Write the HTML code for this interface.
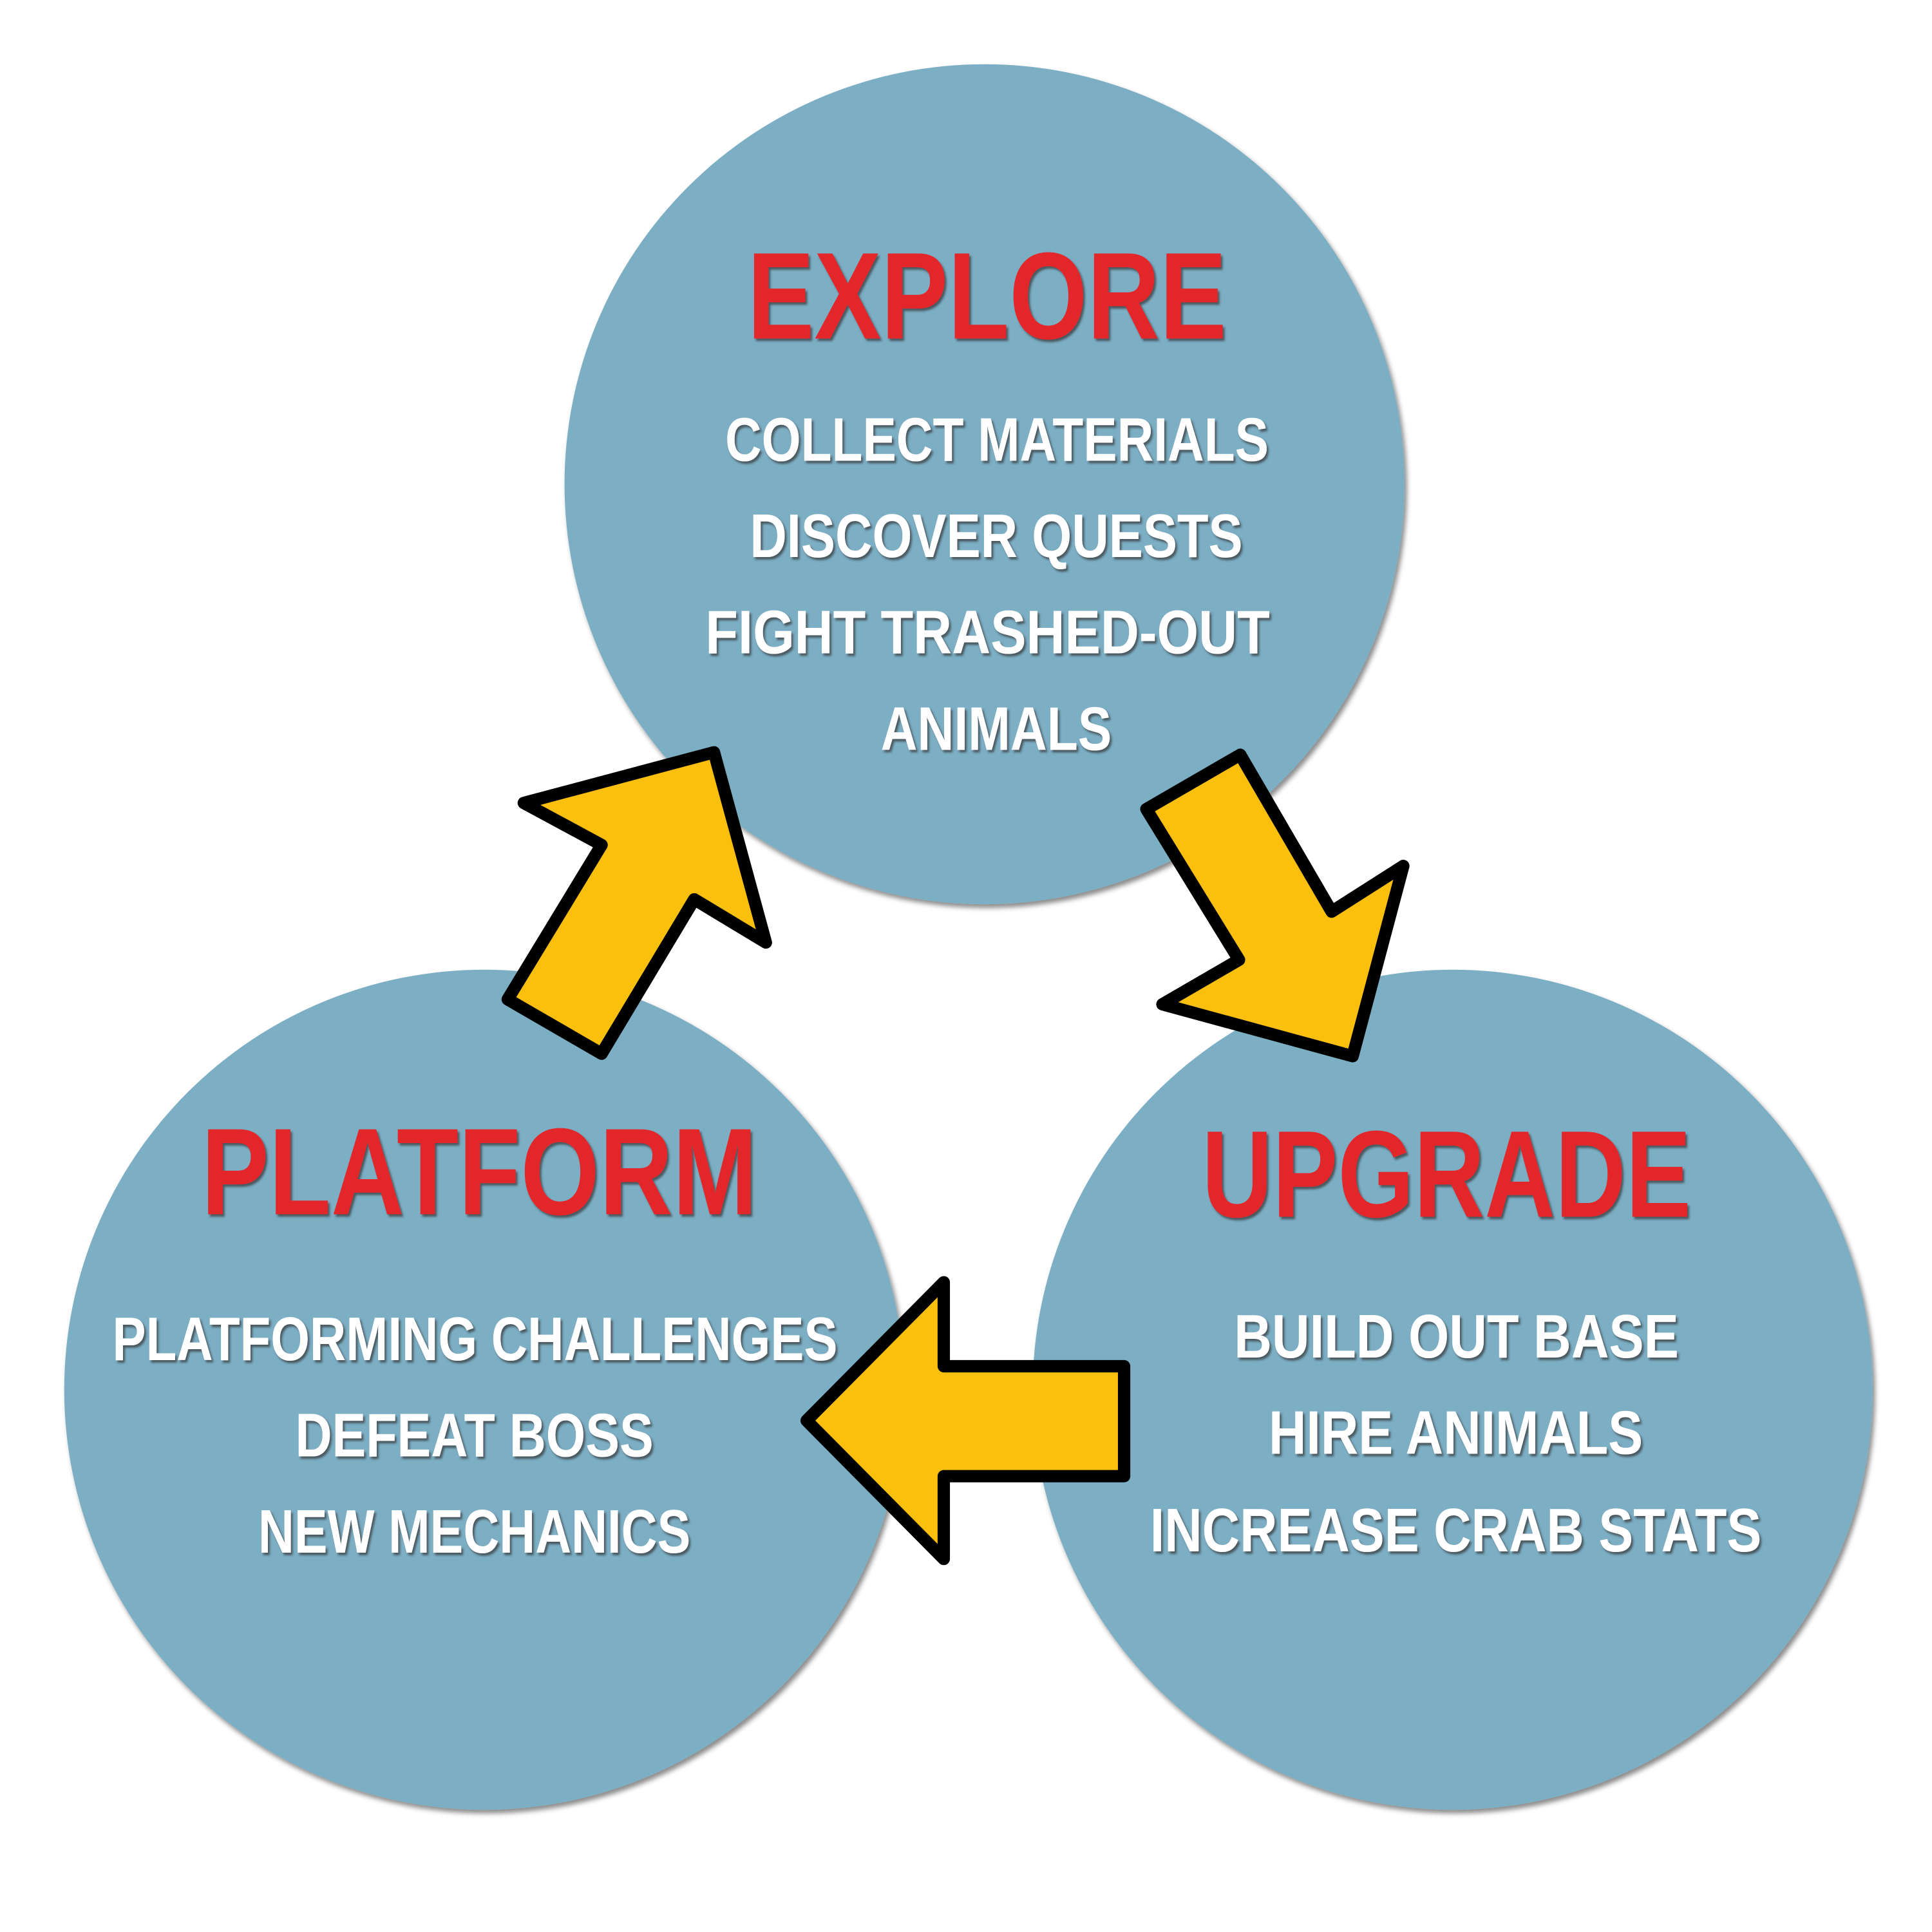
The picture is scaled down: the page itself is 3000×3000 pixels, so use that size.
<!DOCTYPE html>
<html><head><meta charset="utf-8"><style>html,body{margin:0;padding:0;background:#fff}svg{display:block}</style></head>
<body>
<svg width="3000" height="3000" viewBox="0 0 1564 1564" xmlns="http://www.w3.org/2000/svg">
<defs>
<filter id="sh" x="-10%" y="-10%" width="120%" height="120%"><feDropShadow dx="2" dy="3" stdDeviation="2" flood-color="#000" flood-opacity="0.45"/></filter>
<filter id="ts" x="-5%" y="-20%" width="110%" height="140%"><feDropShadow dx="1.5" dy="2" stdDeviation="0.8" flood-color="#333" flood-opacity="0.7"/></filter>
</defs>
<g fill="#7BAEC4" filter="url(#sh)">
<circle cx="797" cy="392" r="340"/>
<circle cx="392" cy="1125" r="340"/>
<circle cx="1176" cy="1125" r="340"/>
</g>
<g font-family="Liberation Sans, sans-serif" font-weight="bold" filter="url(#ts)">
<g fill="#E3262A" font-size="100">
<text x="605" y="274" textLength="388" lengthAdjust="spacingAndGlyphs">EXPLORE</text>
<text x="163" y="983" textLength="450" lengthAdjust="spacingAndGlyphs">PLATFORM</text>
<text x="973" y="985" textLength="396" lengthAdjust="spacingAndGlyphs">UPGRADE</text>
</g>
<g fill="#fff" font-size="50">
<text x="587" y="373" textLength="440" lengthAdjust="spacingAndGlyphs">COLLECT MATERIALS</text>
<text x="607" y="451" textLength="399" lengthAdjust="spacingAndGlyphs">DISCOVER QUESTS</text>
<text x="571" y="529" textLength="457" lengthAdjust="spacingAndGlyphs">FIGHT TRASHED-OUT</text>
<text x="713" y="607" textLength="187" lengthAdjust="spacingAndGlyphs">ANIMALS</text>
<text x="91" y="1101" textLength="587" lengthAdjust="spacingAndGlyphs">PLATFORMING CHALLENGES</text>
<text x="239" y="1179" textLength="290" lengthAdjust="spacingAndGlyphs">DEFEAT BOSS</text>
<text x="209" y="1257" textLength="350" lengthAdjust="spacingAndGlyphs">NEW MECHANICS</text>
<text x="999" y="1099" textLength="360" lengthAdjust="spacingAndGlyphs">BUILD OUT BASE</text>
<text x="1027" y="1177" textLength="303" lengthAdjust="spacingAndGlyphs">HIRE ANIMALS</text>
<text x="931" y="1256" textLength="495" lengthAdjust="spacingAndGlyphs">INCREASE CRAB STATS</text>
</g>
</g>
<g fill="#FBBF0E" stroke="#000" stroke-width="10" stroke-linejoin="round">
<polygon points="487,853 411,809 487,684 424,650 578,609 620,763 562,728"/>
<polygon points="928,655 1004,611 1078,738 1136,701 1095,855 941,813 1003,777"/>
<polygon points="910,1195 764,1195 764,1262 653,1150 764,1038 764,1106 910,1106"/>
</g>
</svg>
</body></html>
